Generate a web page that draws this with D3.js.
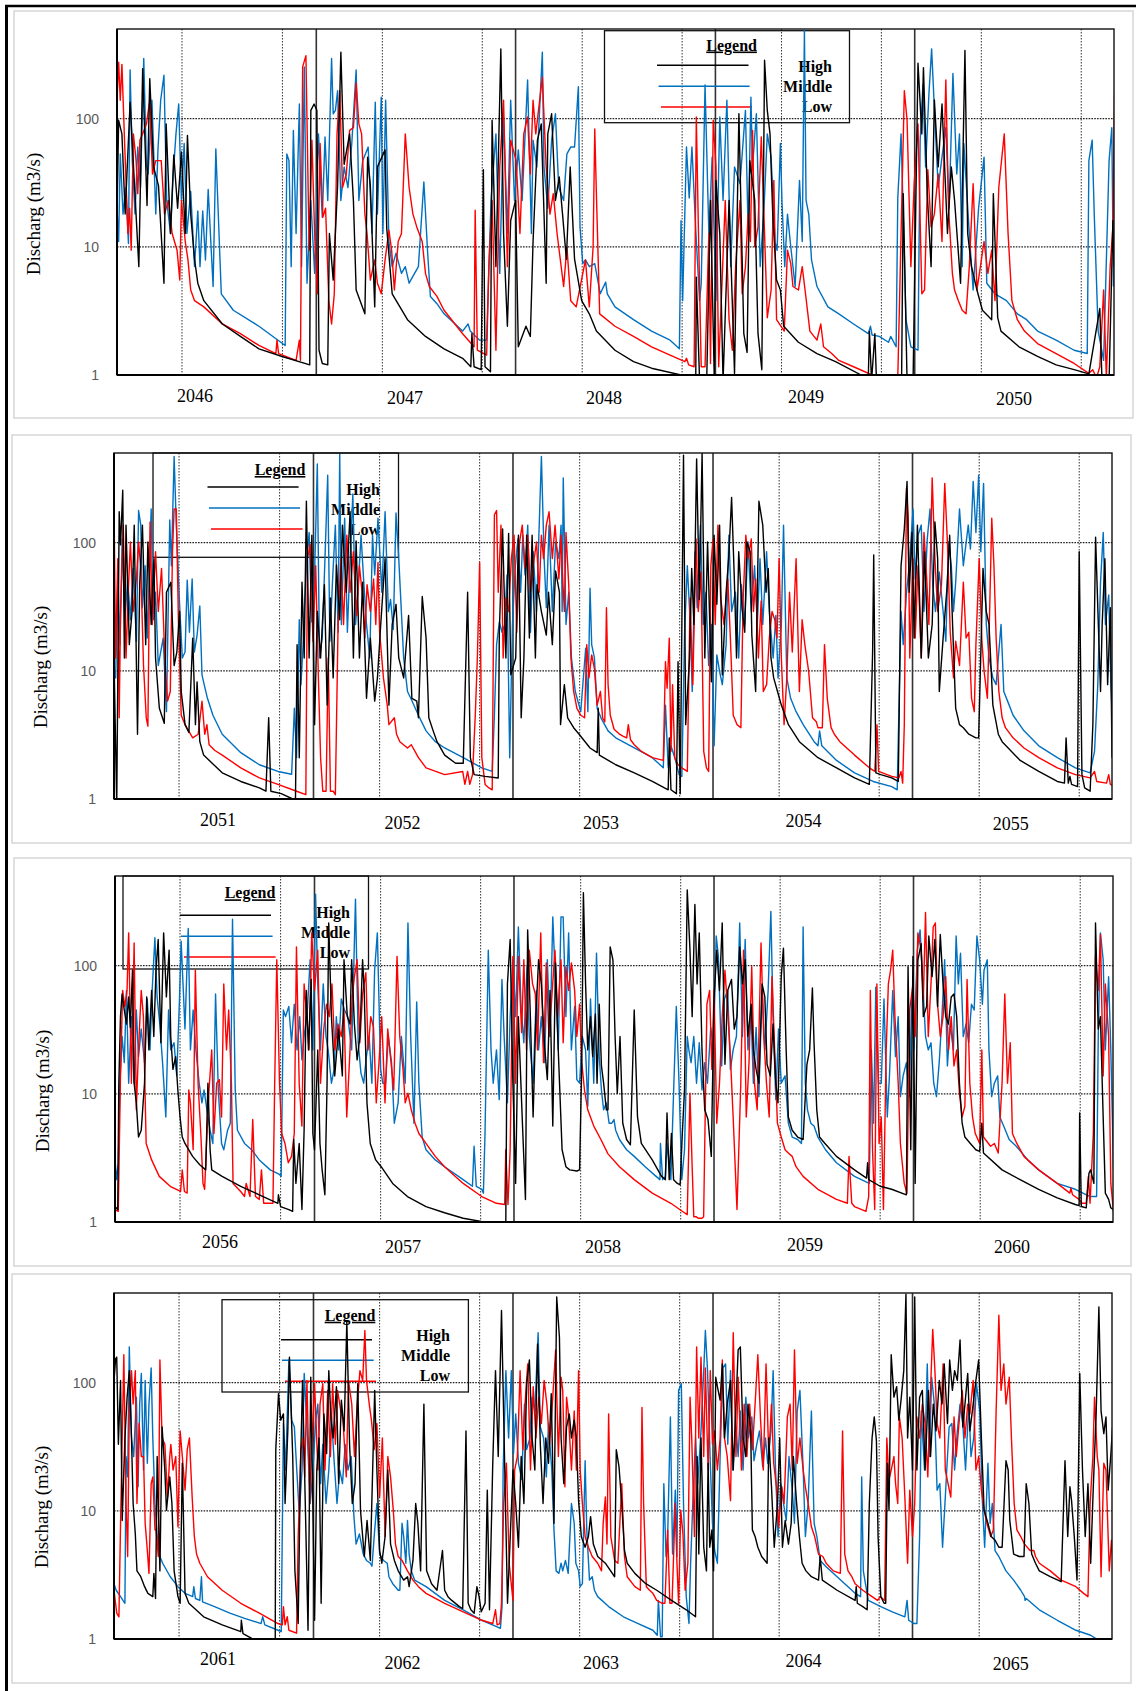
<!DOCTYPE html>
<html>
<head>
<meta charset="utf-8">
<script src="https://cdn.jsdelivr.net/npm/d3@7"></script>
<style>
  body { margin: 0; background: #fff; }
  svg { display: block; }
</style>
</head>
<body>
<script>
"use strict";

// ---- values ----
const yTicks = [1, 10, 100];
const years1 = ["2046", "2047", "2048", "2049", "2050"];
const years2 = ["2051", "2052", "2053", "2054", "2055"];
const years3 = ["2056", "2057", "2058", "2059", "2060"];
const years4 = ["2061", "2062", "2063", "2064", "2065"];
const legendNames = ["High", "Middle", "Low"];
// dotted half-year grid and solid year separators, in days from panel start
const gridDays = [119, 303, 486, 669, 852, 1035, 1217, 1400, 1583, 1766];
const yearLineDays = [365, 730, 1096, 1461];

// daily discharge (m3/s), as [day, value]
const p1High = [[0,17],[3,97],[9,76],[15,18],[24,134],[40,7],[47,245],[55,21],[60,205],[67,42],[76,30],[86,5.2],[90,91],[98,12.7],[104,52],[111,20],[118,55],[125,12.7],[129,74],[135,18],[142,8],[148,5.2],[159,3.8],[193,2.5],[226,2],[260,1.6],[301,1.4],[353,1.2],[355,116],[361,130],[366,116],[370,1.56],[376,1.23],[386,1.2],[389,12.7],[396,5.5],[404,30],[410,330],[416,44],[426,76],[433,23],[438,4.6],[454,3],[459,50],[464,30],[472,3.4],[477,42],[491,57],[494,14],[504,4.3],[532,2.7],[565,2],[599,1.6],[633,1.35],[648,1.16],[650,2.1],[654,1.16],[667,1.1],[671,40],[674,1.16],[684,1.06],[687,97],[694,7],[703,350],[708,12.7],[715,2.4],[721,16],[730,23],[735,1.66],[749,2.4],[757,2],[762,11],[770,68],[777,91],[786,5.2],[789,76],[796,109],[803,23],[810,35],[816,18],[823,8],[830,42],[838,8],[851,3.8],[865,3],[878,2.2],[912,1.56],[946,1.27],[979,1.13],[1033,1],[1060,0.95],[1061,5.8],[1067,0.9],[1080,0.9],[1087,23],[1094,0.9],[1097,33],[1104,12.7],[1110,0.9],[1121,23],[1131,1.03],[1139,109],[1148,2.1],[1154,1.5],[1159,47],[1168,23],[1174,2.1],[1181,1.1],[1186,285],[1191,116],[1196,76],[1201,18],[1208,5.5],[1215,4.6],[1221,2.4],[1248,1.8],[1282,1.47],[1316,1.27],[1363,1],[1376,0.95],[1378,2.2],[1382,0.9],[1388,2.1],[1391,0.9],[1437,0.95],[1440,26],[1447,0.9],[1458,0.9],[1467,270],[1474,76],[1477,250],[1484,26],[1491,7],[1497,140],[1504,42],[1511,130],[1521,12.7],[1528,42],[1534,23],[1545,5.2],[1553,340],[1558,12.7],[1565,7],[1575,4.6],[1585,3.2],[1602,2.7],[1605,26],[1613,2.8],[1619,2.2],[1652,1.66],[1686,1.4],[1720,1.2],[1753,1.1],[1780,1.02],[1800,3.3],[1804,0.9],[1817,0.9],[1824,16],[1826,7]];
const p1Middle = [[0,20],[3,11],[6,53],[11,18],[16,29],[21,10.6],[24,240],[28,47],[33,18],[38,60],[43,29],[49,294],[54,42],[57,37],[64,139],[71,18],[75,57],[80,139],[86,218],[91,23],[98,12.7],[103,37],[108,76],[113,130],[118,23],[123,64],[128,12.7],[135,27],[142,7],[148,19],[152,7],[157,19],[162,7.9],[167,28],[176,4.9],[181,58],[191,4.3],[213,3.2],[260,2.4],[308,1.7],[311,53],[315,47],[319,7],[323,81],[328,12.7],[334,130],[338,7],[343,253],[348,5.2],[355,23],[362,6.2],[369,76],[376,17],[381,72],[386,23],[393,294],[396,109],[400,116],[404,165],[410,23],[416,42],[423,29],[430,64],[438,240],[443,23],[450,47],[460,60],[467,12.7],[473,134],[477,18],[484,147],[487,12.7],[492,139],[498,11],[504,7],[511,8.9],[521,6.2],[528,7],[535,5.2],[545,6.2],[552,7],[562,32],[569,8.9],[574,4.1],[586,3.6],[599,3],[633,2.2],[643,2.5],[647,2.2],[664,1.87],[677,1.87],[685,23],[694,76],[701,6.2],[708,103],[711,42],[715,12.7],[721,139],[728,23],[735,57],[742,23],[752,200],[759,12.7],[762,68],[769,42],[779,330],[782,42],[789,20],[796,68],[803,109],[809,29],[818,23],[824,53],[831,60],[838,60],[845,177],[848,14.3],[853,7.4],[858,7.9],[865,7],[875,7.4],[885,4.3],[895,5.3],[898,4.3],[912,3.4],[946,2.7],[979,2.2],[1013,1.87],[1030,1.6],[1033,16],[1036,3.8],[1043,60],[1048,24],[1053,60],[1060,13.5],[1067,3.8],[1070,5.2],[1077,183],[1084,12.7],[1090,50],[1097,3.8],[1104,103],[1110,23],[1117,139],[1124,7],[1131,42],[1141,31],[1151,116],[1156,12.7],[1161,147],[1164,42],[1171,109],[1178,7],[1185,20],[1191,76],[1198,50],[1205,11],[1209,9.4],[1215,64],[1218,22],[1223,7],[1228,18],[1234,10],[1242,4.9],[1250,33],[1255,11],[1259,490],[1262,23],[1267,18],[1272,7.9],[1282,4.9],[1302,3.4],[1322,3],[1349,2.5],[1376,2.1],[1380,2.4],[1383,2.05],[1396,2],[1413,1.8],[1417,2],[1427,1.66],[1430,24],[1436,76],[1440,18],[1445,2.7],[1454,1.66],[1467,1.56],[1471,68],[1476,183],[1481,42],[1487,155],[1492,350],[1497,120],[1504,29],[1511,50],[1518,85],[1524,20],[1531,225],[1538,37],[1543,76],[1548,7],[1551,64],[1561,12.7],[1568,4.6],[1578,20],[1588,50],[1593,5.2],[1608,4.3],[1629,3.8],[1649,3],[1666,2.7],[1686,2.2],[1720,1.87],[1753,1.56],[1777,1.47],[1780,47],[1786,68],[1790,17],[1797,2.2],[1807,1.3],[1817,47],[1822,85],[1825,4.9]];
const p1Low = [[0,139],[3,275],[6,139],[9,265],[14,64],[20,12.7],[23,20],[26,9.4],[30,76],[35,47],[38,26],[42,68],[47,76],[54,91],[60,139],[65,37],[71,47],[81,47],[87,18],[94,23],[101,12.7],[110,9.4],[115,5.5],[118,23],[125,11],[130,7.9],[135,4.6],[142,3.8],[159,3.4],[193,2.5],[226,2.1],[260,1.7],[291,1.47],[293,1.87],[296,1.47],[328,1.3],[334,1.87],[336,1.3],[340,253],[346,310],[352,9.4],[357,68],[362,12.7],[367,4.3],[372,64],[377,17],[382,20],[388,3.8],[393,2.5],[398,4.3],[403,76],[408,165],[413,29],[420,37],[426,81],[433,85],[438,190],[443,91],[448,76],[454,18],[458,12.7],[464,5.5],[472,7.9],[477,5.2],[484,4.3],[491,7.9],[498,13.5],[503,9.4],[508,4.6],[515,11],[521,12.7],[528,76],[535,29],[542,18],[549,14.3],[559,11],[565,6.2],[572,4.9],[586,4.1],[599,3.2],[633,2.1],[654,1.66],[656,19.3],[660,1.56],[677,1.43],[681,7],[687,23],[694,1.56],[701,42],[708,139],[715,7],[721,68],[731,47],[738,12.7],[745,76],[752,103],[757,37],[762,139],[767,76],[772,116],[779,210],[786,42],[793,18],[799,26],[806,12.7],[818,4.9],[824,10],[831,3.8],[841,3.4],[858,7.9],[865,3.4],[872,10],[875,83],[878,26],[884,3],[912,2.4],[946,2],[979,1.66],[1013,1.43],[1040,1.27],[1043,1.35],[1047,1.2],[1057,1.16],[1061,103],[1065,12.7],[1070,1.16],[1077,1.16],[1084,12.7],[1087,1.23],[1092,97],[1097,42],[1102,1.16],[1114,23],[1121,2.7],[1127,1.56],[1133,7],[1141,23],[1145,4.3],[1151,7],[1156,18],[1160,11],[1164,81],[1168,10],[1174,14.3],[1180,72],[1185,17],[1191,2.8],[1198,4.6],[1203,33],[1208,2.7],[1222,2.2],[1228,9.4],[1234,7.4],[1238,4.9],[1248,4.6],[1255,7],[1261,4.3],[1269,2.2],[1282,1.87],[1289,2.5],[1294,1.66],[1309,1.47],[1322,1.3],[1349,1.16],[1383,1],[1430,0.95],[1442,165],[1447,97],[1454,7],[1460,31],[1467,91],[1474,4.3],[1479,4.6],[1485,40],[1491,14.3],[1497,18],[1504,37],[1511,11],[1518,200],[1523,20],[1530,6.2],[1534,4.6],[1541,3.8],[1548,3.2],[1555,3],[1561,7],[1568,31],[1575,4.6],[1588,11],[1595,6.2],[1602,9.4],[1608,3.8],[1615,29],[1625,76],[1632,12.7],[1639,3.8],[1649,2.7],[1662,2.2],[1686,1.76],[1720,1.47],[1753,1.23],[1780,1.03],[1787,1.1],[1794,0.95],[1800,1.16],[1807,4.6],[1812,0.95],[1819,7],[1824,14.3],[1827,155]];

const p2High = [[0,12.6],[5,0.9],[9.5,174],[12,96],[16,256],[19,12.6],[22,137],[28,16],[33,29],[37,137],[43,3.2],[47,47],[52,137],[58,16],[62,101],[68,23],[73,75],[76,12.6],[83,5.1],[92,3.9],[96,41],[104,49],[110,11],[115,14],[120,29],[123,6.9],[130,3.8],[137,3.3],[144,18],[149,3.8],[152,8.2],[157,2.8],[164,2.2],[198,1.6],[232,1.37],[266,1.22],[278,1.15],[283,4.3],[287,1.15],[306,1.1],[327,1],[332,0.95],[335,16],[339,2.1],[344,49],[348,12.6],[352,210],[357,12.6],[362,114],[367,3.8],[372,29],[378,12.6],[385,47],[390,5.4],[396,37],[401,8.8],[407,67],[413,25],[418,137],[425,41],[432,174],[438,12.6],[443,103],[449,12.6],[455,49],[462,6.1],[469,18],[477,5.8],[482,8.8],[488,23],[496,75],[503,5.4],[509,23],[516,33],[521,12.6],[530,8.8],[539,27],[545,6.1],[554,5.8],[557,4.3],[564,38],[571,18],[576,4.3],[584,3.4],[591,2.8],[605,2.2],[625,1.9],[639,1.9],[647,41],[652,2.1],[659,1.55],[679,1.5],[703,1.46],[705,20],[711,128],[717,12.6],[722,118],[726,9.3],[735,12.6],[740,114],[745,4.3],[750,12.6],[755,114],[760,18],[765,114],[771,12.6],[774,47],[782,29],[791,19],[795,41],[802,16],[808,60],[815,41],[817,3.8],[824,7.8],[830,4.3],[841,3.6],[851,3.2],[871,2.5],[884,2.3],[886,5.1],[888,2.2],[918,1.85],[952,1.6],[985,1.37],[1014,1.18],[1016,3],[1019,1.18],[1029,1.1],[1032,11.8],[1036,1.1],[1042,480],[1046,3.8],[1053,12.6],[1057,63],[1061,23],[1066,450],[1071,36],[1076,500],[1081,12.6],[1086,101],[1093,8.2],[1098,114],[1103,33],[1108,137],[1113,9.3],[1120,41],[1125,80],[1130,225],[1135,52],[1139,12.6],[1143,85],[1149,31],[1154,20],[1158,101],[1164,85],[1167,19],[1174,6.9],[1180,210],[1187,137],[1193,41],[1197,63],[1202,12.6],[1207,8.8],[1214,6.9],[1221,5.4],[1234,3.8],[1254,2.8],[1288,2.1],[1322,1.75],[1355,1.46],[1382,1.3],[1388,14],[1390,80],[1394,1.6],[1403,1.55],[1423,1.46],[1435,1.37],[1440,66],[1446,128],[1451,300],[1455,41],[1460,120],[1464,18],[1470,137],[1477,12.6],[1483,85],[1490,12.6],[1497,23],[1502,145],[1507,75],[1510,6.9],[1517,18],[1524,44],[1529,114],[1534,25],[1540,5.1],[1547,3.8],[1554,3.6],[1564,3.2],[1577,3],[1582,3],[1590,63],[1596,29],[1601,23],[1608,5.4],[1618,3.2],[1625,2.8],[1658,2],[1692,1.64],[1726,1.37],[1739,1.33],[1742,3],[1746,1.33],[1749,1.5],[1752,1.3],[1763,1.25],[1766,85],[1771,1.55],[1776,1.22],[1786,1.15],[1791,3.8],[1796,110],[1801,23],[1805,6.9],[1808,23],[1813,75],[1818,7.8],[1823,31],[1826,2.1]];
const p2Middle = [[0,10.5],[3,8.8],[7,56],[11,16],[15,107],[20,25],[25,52],[30,25],[35,63],[41,17],[45,178],[49,137],[52,31],[57,66],[61,18],[68,183],[72,25],[76,41],[81,11],[90,18],[96,4.8],[102,150],[105,66],[110,470],[114,137],[120,33],[125,12.6],[130,14],[134,51],[138,20],[143,52],[147,14],[152,19],[157,32],[161,9.3],[165,7.8],[171,6.1],[181,4.5],[198,3.2],[232,2.3],[266,1.85],[300,1.64],[325,1.56],[330,5.1],[334,2.1],[339,25],[342,7.8],[346,16],[348,29],[353,75],[357,120],[362,24],[367,56],[372,410],[376,12.6],[381,18],[386,75],[391,335],[395,17],[400,52],[405,137],[410,20],[413,500],[416,23],[422,155],[427,20],[432,75],[437,240],[442,23],[447,47],[452,114],[457,49],[462,23],[468,12.6],[473,114],[477,56],[483,155],[490,41],[496,174],[502,29],[506,36],[511,21],[516,170],[521,75],[530,12.6],[537,6.9],[543,6.1],[557,4.5],[571,3.4],[588,2.8],[605,2.5],[639,2.1],[673,1.75],[692,1.64],[696,4.5],[700,16],[705,24],[710,20],[715,23],[719,56],[724,2.1],[729,23],[734,63],[739,107],[744,41],[748,114],[752,56],[757,137],[762,20],[767,85],[773,29],[778,137],[782,470],[787,75],[791,31],[796,137],[802,29],[808,101],[814,75],[818,137],[820,29],[822,320],[827,23],[832,41],[837,12.6],[844,6.9],[854,4.8],[863,15],[867,4.8],[871,44],[874,16],[879,12.6],[884,5.1],[891,4.3],[904,3.4],[918,3],[952,2.5],[985,2.1],[1005,1.75],[1009,5.4],[1014,1.75],[1019,2.6],[1026,2.1],[1034,1.55],[1039,1.5],[1044,20],[1049,66],[1054,25],[1058,6.9],[1063,85],[1067,31],[1073,137],[1078,23],[1083,41],[1088,11],[1093,23],[1098,2.6],[1103,13.3],[1108,9.9],[1113,7.8],[1120,16],[1125,114],[1130,29],[1137,41],[1143,12.6],[1148,47],[1154,23],[1160,101],[1166,29],[1172,66],[1177,23],[1182,75],[1187,23],[1194,85],[1199,29],[1206,12.6],[1211,27],[1215,8.8],[1221,23],[1225,137],[1231,8.8],[1238,6.1],[1248,4.8],[1261,3.8],[1281,2.8],[1288,2.6],[1291,3.4],[1295,2.6],[1322,2],[1355,1.6],[1389,1.37],[1423,1.25],[1433,1.18],[1440,29],[1444,16],[1450,41],[1455,66],[1462,183],[1466,52],[1471,114],[1477,137],[1482,29],[1488,107],[1493,183],[1498,47],[1503,29],[1510,59],[1517,29],[1522,17],[1527,101],[1532,66],[1536,29],[1540,49],[1547,183],[1554,66],[1563,137],[1567,89],[1572,300],[1577,120],[1582,335],[1586,85],[1591,290],[1596,23],[1601,12.6],[1608,8.8],[1614,7.8],[1623,23],[1628,6.9],[1635,5.8],[1645,4.5],[1665,3.4],[1692,2.6],[1726,2.1],[1759,1.75],[1786,1.6],[1794,2.35],[1800,7.8],[1805,49],[1810,120],[1814,23],[1820,39],[1824,7.8],[1828,3]];
const p2Low = [[0,200],[3,12.6],[7,75],[9.5,4.3],[12,29],[17,137],[22,12.6],[26,41],[30,101],[35,29],[41,52],[45,101],[49,63],[54,11],[59,4.3],[62,3.7],[66,145],[70,23],[76,85],[81,29],[87,63],[93,12.6],[98,5.8],[103,6.9],[107,85],[110,183],[114,183],[118,23],[123,4.5],[130,3.8],[144,3],[154,3.2],[161,5.8],[166,3.2],[170,3.8],[174,2.65],[184,2.4],[198,2.2],[232,1.75],[266,1.46],[300,1.3],[334,1.15],[351,1.08],[354,75],[359,97],[364,17],[369,66],[374,8.8],[378,2.1],[382,1.15],[388,1.15],[392,12.6],[396,1.15],[401,1.15],[405,1.08],[410,23],[415,75],[420,23],[426,114],[432,41],[438,85],[444,27],[449,66],[454,41],[459,18],[463,47],[469,29],[475,52],[479,23],[483,70],[486,20],[493,8.8],[500,5.4],[503,3.8],[513,4.3],[517,3.2],[523,2.8],[537,2.5],[544,2.65],[557,2.1],[571,1.75],[605,1.55],[638,1.64],[642,1.3],[647,1.64],[651,1.3],[656,1.55],[661,4.5],[665,13.3],[669,70],[673,2.1],[679,1.3],[686,1.22],[692,1.18],[696,165],[700,178],[703,41],[708,137],[712,12.6],[717,37],[722,29],[727,75],[732,114],[737,20],[742,101],[747,137],[752,63],[757,114],[762,41],[767,66],[773,101],[778,41],[782,114],[786,75],[791,137],[796,174],[802,75],[807,137],[814,52],[818,114],[820,63],[824,29],[827,120],[832,47],[836,12.6],[841,6.9],[847,5.1],[854,4.5],[861,4.3],[865,16],[869,8.8],[874,13.3],[879,10.4],[884,5.4],[890,6.9],[894,4.3],[898,4],[901,31],[904,7.8],[908,4.5],[915,3.5],[925,3.2],[931,3.1],[938,3],[941,3.8],[945,2.9],[952,2.65],[965,2.35],[985,2.1],[1005,2],[1009,11.8],[1012,7.3],[1016,18],[1019,2.35],[1022,7.8],[1026,2.1],[1032,1.85],[1039,1.75],[1049,1.64],[1054,37],[1059,7.8],[1065,107],[1069,29],[1074,59],[1079,2.35],[1084,1.75],[1088,1.64],[1092,66],[1096,107],[1100,23],[1105,137],[1110,37],[1116,23],[1123,52],[1128,17],[1133,4.5],[1140,3.8],[1147,3.6],[1151,35],[1156,114],[1160,75],[1166,107],[1170,29],[1174,52],[1179,12.6],[1184,35],[1188,6.9],[1194,7.8],[1199,18],[1204,29],[1209,25],[1213,18],[1217,75],[1221,12.6],[1226,3.8],[1231,8.8],[1236,41],[1241,14],[1248,75],[1254,6.9],[1259,25],[1264,16],[1271,9.9],[1278,4.3],[1285,4],[1288,3.6],[1296,3.6],[1300,16],[1305,6.1],[1312,3.6],[1318,3.2],[1328,2.8],[1355,2.2],[1382,1.75],[1392,1.64],[1396,3.8],[1399,1.64],[1423,1.5],[1436,1.46],[1440,1.64],[1443,1.33],[1446,3.8],[1450,265],[1453,155],[1456,12.6],[1462,75],[1466,18],[1471,66],[1477,12.6],[1482,120],[1487,52],[1491,23],[1497,320],[1502,75],[1507,29],[1514,47],[1520,290],[1525,97],[1530,20],[1536,8.8],[1540,17],[1547,11],[1554,49],[1559,18],[1564,20],[1569,6.1],[1574,4.8],[1577,16],[1583,75],[1588,17],[1592,9.9],[1598,6.1],[1601,18],[1606,155],[1610,66],[1614,18],[1619,6.9],[1625,4.3],[1631,3.6],[1645,3],[1665,2.5],[1692,2.1],[1726,1.75],[1759,1.55],[1786,1.46],[1794,1.64],[1798,1.37],[1816,1.33],[1820,1.55],[1823,1.3],[1829,1.27]];

const p3High = [[0,1.32],[5,1.25],[7,12.1],[10,40],[13,60],[17,45],[21,35],[25,57],[28,33],[32,92],[35,12.1],[39,8.5],[43,4.6],[48,5.2],[54,12.1],[58,57],[62,22],[67,64],[71,28],[75,92],[79,160],[84,25],[89,180],[94,57],[99,132],[102,28],[106,15.5],[111,19.5],[115,10.7],[119,6.6],[123,4.6],[128,4.1],[142,3.25],[155,2.8],[166,2.55],[170,12.1],[174,3.66],[177,2.55],[196,2.27],[230,1.9],[264,1.63],[298,1.4],[299,1.63],[303,1.32],[318,1.25],[325,1.21],[327,4.4],[331,2],[337,4.1],[342,1.25],[346,5.2],[350,64],[354,22],[359,78],[362,4.9],[365,3.66],[371,22],[375,4.1],[379,2.55],[384,1.63],[388,12.1],[391,215],[396,40],[402,13.8],[409,32],[416,13.8],[419,111],[425,40],[430,35],[433,111],[438,35],[443,18.4],[448,28],[453,111],[456,64],[461,8.5],[467,4.1],[477,3.05],[487,2.7],[508,2],[535,1.58],[569,1.32],[603,1.18],[637,1.07],[670,1.01],[691,0.98],[715,0.95],[718,72],[723,160],[728,12.1],[733,2],[738,40],[745,6.6],[751,1.5],[755,190],[760,40],[765,6.6],[770,40],[775,111],[780,72],[786,23.5],[791,12.9],[796,64],[801,5.6],[806,105],[811,22],[818,3.66],[825,2.7],[832,2.55],[845,2.5],[850,2.55],[854,17],[857,370],[861,72],[865,22],[870,40],[874,19.5],[879,42],[882,12.1],[886,50],[890,16.5],[894,12.1],[899,7.5],[902,7.5],[906,140],[911,111],[915,28],[919,10.1],[924,28],[929,5.9],[936,4.4],[943,4],[950,45],[956,6.6],[963,4.1],[983,3.05],[1000,2.27],[1007,2.14],[1010,7.1],[1014,2.14],[1018,4.9],[1022,2.14],[1029,2],[1034,1.95],[1038,4.9],[1042,10.7],[1047,390],[1052,132],[1056,40],[1061,300],[1065,72],[1069,180],[1074,22],[1079,7.5],[1085,6.3],[1091,3.25],[1096,55],[1101,132],[1106,64],[1111,215],[1116,17],[1121,64],[1128,78],[1133,32],[1138,40],[1143,140],[1148,72],[1153,111],[1158,28],[1164,50],[1168,22],[1173,15.5],[1178,12.1],[1184,72],[1189,57],[1193,17],[1199,13.8],[1204,35],[1209,12.1],[1213,8.5],[1219,82],[1223,137],[1228,22],[1232,6.6],[1239,5.2],[1249,4.6],[1259,4.4],[1266,17],[1271,22],[1276,67],[1279,25],[1284,7.5],[1289,4.6],[1299,4.1],[1320,3.25],[1353,2.55],[1375,2.2],[1377,2.9],[1379,2.14],[1400,1.9],[1421,1.8],[1448,1.63],[1451,98],[1456,3.66],[1460,118],[1464,2],[1469,111],[1475,148],[1479,40],[1485,48],[1489,170],[1495,82],[1500,160],[1505,48],[1510,175],[1515,72],[1520,40],[1525,35],[1530,57],[1535,60],[1540,40],[1545,12.1],[1550,5.9],[1555,4.6],[1565,4.1],[1575,3.66],[1582,3.55],[1586,5.9],[1589,3.45],[1623,2.55],[1656,2.14],[1690,1.8],[1724,1.54],[1757,1.37],[1764,1.34],[1765,7.1],[1768,1.32],[1777,1.29],[1782,2.4],[1785,2.55],[1791,2],[1794,215],[1799,32],[1803,40],[1808,6.6],[1812,1.68],[1818,1.5],[1822,1.29],[1826,1.25]];
const p3Middle = [[0,3.05],[3,2.14],[6,2.9],[9,12.1],[13,28],[17,17.5],[21,64],[25,12.1],[30,40],[35,12.1],[39,45],[43,19.5],[48,32],[54,17.5],[59,55],[64,22],[68,64],[73,165],[77,57],[82,35],[87,17.5],[93,6.6],[98,45],[102,22],[108,25],[113,13.8],[118,55],[121,155],[125,64],[128,32],[134,195],[138,22],[143,45],[148,22],[154,12.1],[159,8.5],[163,10.7],[169,7.1],[174,5.2],[179,4.1],[184,60],[189,10.7],[195,4.1],[199,3.66],[206,5.2],[211,5.9],[215,230],[220,10.7],[224,5.2],[237,4.1],[250,3.66],[264,3.05],[284,2.55],[301,2.35],[304,2.27],[308,45],[312,40],[318,48],[323,25],[328,50],[333,22],[338,40],[342,18.4],[346,28],[352,45],[357,111],[362,22],[367,360],[371,72],[376,22],[381,72],[386,28],[390,22],[396,12.1],[401,15.5],[405,40],[409,22],[414,55],[420,45],[426,40],[433,22],[440,330],[445,25],[450,14.5],[455,12.1],[460,19.5],[465,28],[470,12.1],[475,92],[480,180],[486,15.5],[490,12.1],[495,12.1],[500,28],[506,17.5],[511,5.9],[518,8.5],[524,28],[531,12.1],[536,215],[541,28],[547,5.9],[552,52],[556,12.1],[562,4.6],[569,3.66],[586,3.05],[603,2.7],[637,2.14],[654,1.9],[657,3.9],[661,1.9],[671,1.8],[674,1.68],[677,4.9],[683,132],[688,22],[692,12.1],[698,22],[703,9],[708,78],[712,28],[718,8.5],[723,40],[728,111],[733,40],[738,200],[743,48],[748,25],[754,98],[758,28],[765,12.1],[771,64],[775,22],[780,40],[786,17.5],[791,111],[796,28],[801,240],[806,72],[811,22],[816,240],[820,240],[825,40],[830,180],[835,22],[841,48],[845,12.9],[850,12.1],[855,28],[861,22],[865,8],[870,55],[876,12.1],[881,125],[886,19.5],[890,10.7],[894,7.5],[899,8.5],[904,5.9],[909,5.9],[913,6.3],[916,5.2],[923,4.4],[936,3.66],[950,3.25],[970,2.7],[990,2.27],[997,2.14],[998,4.1],[1002,2.14],[1007,2.27],[1010,4.1],[1017,2.14],[1027,48],[1032,12.1],[1037,2.14],[1042,3.66],[1047,28],[1050,22],[1054,17.5],[1059,28],[1064,12.1],[1069,25],[1074,10.7],[1079,17.5],[1084,12.1],[1090,33],[1095,22],[1100,170],[1104,118],[1110,16.5],[1115,55],[1121,64],[1126,15.5],[1131,22],[1137,28],[1143,215],[1148,28],[1153,160],[1158,22],[1164,40],[1168,12.1],[1173,33],[1178,9.5],[1184,64],[1189,22],[1195,64],[1200,265],[1204,40],[1209,9],[1214,32],[1219,12.1],[1226,13.8],[1232,5.9],[1239,4.6],[1249,4.4],[1256,4.1],[1259,200],[1263,12.1],[1267,7.5],[1273,5.9],[1279,5.6],[1286,4.6],[1300,3.66],[1320,2.9],[1353,2.27],[1380,2],[1384,22],[1388,5.9],[1392,68],[1397,12.1],[1402,12.1],[1407,55],[1413,6.6],[1417,13.8],[1423,64],[1428,19.5],[1433,40],[1437,9.5],[1442,13.8],[1448,17.5],[1453,9.5],[1458,57],[1462,22],[1468,132],[1473,190],[1478,72],[1483,28],[1488,22],[1493,25],[1498,12.1],[1503,9.5],[1508,17.5],[1513,40],[1518,111],[1523,16.5],[1528,35],[1534,22],[1539,170],[1543,72],[1547,125],[1552,28],[1557,35],[1562,25],[1567,50],[1572,45],[1577,170],[1582,111],[1587,50],[1590,92],[1596,111],[1599,22],[1604,9.5],[1609,12.1],[1615,13.8],[1619,6.6],[1626,5.6],[1636,4.4],[1649,3.9],[1670,3.05],[1690,2.55],[1724,2],[1757,1.8],[1784,1.58],[1796,1.58],[1799,28],[1803,180],[1808,111],[1812,22],[1818,82],[1822,22],[1827,2.55]];
const p3Low = [[0,1.25],[6,1.21],[10,13.8],[14,64],[18,48],[22,64],[25,180],[30,12.1],[35,150],[39,7.5],[43,22],[48,64],[52,40],[57,4.1],[67,3.05],[81,2.27],[101,1.9],[120,1.73],[123,2.55],[127,1.73],[132,1.68],[135,10.7],[138,8.5],[143,3.66],[147,92],[152,12.1],[157,4.9],[161,2],[164,1.8],[167,3.66],[172,10.7],[177,22],[181,4.9],[186,12.1],[191,12.9],[195,6.6],[199,72],[204,22],[208,45],[213,12.1],[216,2],[230,1.73],[237,1.58],[240,2],[247,1.58],[252,6.3],[257,1.58],[264,1.5],[268,2.55],[272,1.4],[289,1.4],[292,10.7],[296,111],[301,12.1],[305,4.9],[311,4.1],[317,2.9],[323,3.25],[328,4.9],[332,140],[337,12.1],[342,5.6],[346,72],[351,40],[355,22],[360,180],[365,64],[371,132],[376,12.1],[382,32],[387,50],[392,40],[397,72],[402,22],[408,35],[414,28],[419,45],[424,6.6],[430,22],[434,57],[438,82],[443,111],[448,25],[453,60],[459,88],[463,22],[468,40],[473,33],[478,8.5],[483,17.5],[488,40],[494,8.5],[499,32],[504,19.5],[510,10.7],[516,118],[521,28],[527,15.5],[531,8.5],[536,10.1],[542,7.5],[549,5.9],[556,4.9],[569,4.1],[586,3.25],[603,2.7],[637,2],[671,1.58],[698,1.4],[713,1.37],[715,3.66],[719,1.37],[723,3.66],[728,118],[733,12.1],[738,118],[744,30],[748,111],[753,22],[758,132],[764,72],[769,60],[773,22],[779,180],[784,17.5],[789,105],[794,28],[799,55],[805,132],[810,40],[816,111],[820,25],[825,98],[830,64],[835,105],[841,64],[845,28],[850,50],[854,17.5],[859,10.7],[865,7.5],[876,5.6],[889,4.4],[902,3.4],[923,2.7],[950,2.14],[983,1.68],[1017,1.4],[1047,1.14],[1052,10.1],[1056,2.7],[1059,1.1],[1063,1.1],[1067,1.07],[1074,1.07],[1077,1.1],[1083,50],[1088,64],[1092,15.5],[1096,64],[1101,5.9],[1106,12.1],[1111,40],[1116,92],[1121,45],[1126,19.5],[1131,6.6],[1138,1.25],[1145,12.1],[1150,132],[1155,6.6],[1160,17.5],[1165,98],[1170,12.1],[1175,7.5],[1182,150],[1187,28],[1192,12.1],[1197,6.6],[1202,82],[1207,22],[1212,5.9],[1219,4.6],[1226,3.66],[1232,3.45],[1239,3.25],[1246,2.7],[1259,2.27],[1286,1.8],[1320,1.5],[1340,1.4],[1343,3.25],[1348,1.4],[1353,1.32],[1374,1.21],[1379,1.58],[1382,64],[1386,3.66],[1390,1.25],[1394,72],[1398,4.1],[1402,6.6],[1406,1.25],[1411,22],[1415,72],[1419,92],[1423,132],[1427,40],[1433,12.1],[1437,4.1],[1444,2],[1449,1.68],[1454,45],[1460,72],[1464,28],[1469,180],[1475,132],[1479,55],[1483,260],[1488,28],[1493,72],[1497,200],[1501,215],[1505,50],[1510,28],[1515,40],[1520,82],[1525,22],[1530,40],[1535,16.5],[1540,22],[1545,10.1],[1550,6.6],[1555,8],[1559,78],[1564,12.1],[1569,6.6],[1574,4.9],[1582,4.1],[1586,22],[1589,4.6],[1602,3.9],[1609,4.1],[1616,3.45],[1623,12.1],[1628,60],[1633,12.1],[1638,25],[1642,4.9],[1650,4.1],[1663,3.25],[1690,2.55],[1724,2],[1747,1.68],[1749,1.84],[1752,1.63],[1764,1.5],[1769,1.4],[1777,1.4],[1781,2.27],[1784,1.4],[1790,4.9],[1794,118],[1799,64],[1803,175],[1808,13.8],[1812,72],[1818,28],[1822,2],[1827,1.18]];

const p4High = [[0,104],[3,153],[5,158],[8,33],[12,104],[15,8.4],[20,37],[24,77],[28,124],[32,37],[35,11.4],[39,6.6],[42,3.4],[49,3.06],[56,2.56],[62,2.27],[71,2.14],[73,3.25],[76,2.07],[79,26.5],[84,3.4],[88,45],[93,20.8],[96,10.1],[102,18.4],[106,11.4],[110,3.4],[117,2.14],[121,1.9],[125,23.5],[130,2.27],[137,1.9],[164,1.49],[198,1.29],[232,1.14],[233,1.4],[236,1.1],[252,1.01],[266,0.98],[295,0.95],[296,30],[301,82],[305,51],[310,57],[313,11.4],[318,42],[321,158],[327,26.5],[331,3.4],[337,1.32],[341,20.8],[345,104],[350,11.4],[355,1.17],[360,110],[364,10.1],[367,1.4],[371,20.8],[375,37],[379,1.9],[384,57],[389,28],[393,124],[397,51],[401,37],[407,93],[411,16.3],[416,73],[421,42],[426,300],[431,33],[436,11.4],[441,16.3],[446,98],[451,10.1],[458,4.4],[463,8.4],[469,4.1],[477,87],[481,20.8],[486,4.9],[490,3.9],[496,6.3],[501,20.8],[506,5.5],[513,4.1],[520,3.4],[530,2.88],[537,3.06],[540,2.56],[547,4.1],[552,11.4],[556,8],[561,3.4],[567,68],[572,3.4],[581,2.7],[591,2.4],[601,4.9],[605,2.4],[611,2.14],[618,2],[632,1.79],[638,1.73],[644,42],[648,1.9],[653,1.69],[659,1.59],[664,2.56],[668,2.14],[672,1.63],[679,1.9],[683,14.5],[687,1.69],[693,23.5],[698,124],[703,26.5],[709,365],[715,20.8],[720,1.9],[725,6.3],[730,20.8],[735,11.4],[740,5.2],[745,26.5],[750,11.4],[755,98],[760,150],[765,37],[770,20.8],[775,200],[780,33],[785,11.4],[790,37],[795,23.5],[800,82],[805,8],[810,465],[815,225],[818,37],[823,16.3],[828,45],[833,57],[837,37],[842,51],[846,37],[850,12],[855,6.3],[862,5.2],[868,6.3],[872,9],[877,5.5],[885,4.4],[899,3.9],[916,3.06],[919,30],[924,22],[929,11.4],[934,4.9],[939,3.9],[953,3.25],[973,2.7],[993,2.4],[1020,2],[1047,1.69],[1064,1.49],[1067,26.5],[1070,4.6],[1074,37],[1079,5.2],[1084,3.4],[1087,23.5],[1090,5.2],[1094,7.1],[1097,3.4],[1101,110],[1104,93],[1109,73],[1113,140],[1117,37],[1122,68],[1128,104],[1133,20.8],[1138,68],[1142,180],[1146,190],[1151,37],[1156,26.5],[1160,68],[1165,40],[1168,7.1],[1173,6.3],[1178,5.2],[1185,4.4],[1195,3.9],[1198,37],[1203,15.4],[1208,5.2],[1214,11.4],[1218,37],[1223,5.2],[1228,8.4],[1234,5.5],[1239,8],[1243,26.5],[1249,11.4],[1254,6.3],[1259,3.9],[1266,3.4],[1276,3.06],[1289,2.88],[1292,4.4],[1296,2.88],[1323,2.4],[1356,2],[1358,2.56],[1360,1.9],[1370,1.79],[1378,1.69],[1382,11.4],[1387,37],[1391,54],[1395,35],[1398,6.3],[1403,2.14],[1409,1.9],[1412,1.9],[1415,23.5],[1418,10.1],[1422,165],[1427,77],[1432,93],[1436,51],[1440,73],[1445,124],[1449,490],[1452,37],[1456,77],[1461,20.8],[1465,465],[1469,20.8],[1474,77],[1479,87],[1484,20.8],[1490,87],[1494,26.5],[1499,68],[1504,42],[1510,104],[1515,68],[1519,140],[1525,48],[1529,150],[1534,87],[1538,124],[1543,104],[1548,215],[1553,45],[1557,68],[1562,118],[1566,42],[1572,68],[1577,104],[1582,150],[1587,37],[1592,10.1],[1599,8],[1605,6.3],[1612,5.9],[1619,5.2],[1625,5.2],[1632,24.6],[1636,20.8],[1639,8.4],[1646,4.6],[1656,4.4],[1665,4.4],[1669,16.3],[1674,11.4],[1679,4.6],[1686,3.9],[1693,3.4],[1713,3.06],[1733,2.8],[1740,24.6],[1745,6.3],[1749,15.4],[1752,12],[1757,6.3],[1762,2.88],[1767,118],[1772,20.8],[1777,6.3],[1782,16.3],[1787,3.9],[1792,16.3],[1797,57],[1802,390],[1806,60],[1811,40],[1815,54],[1819,14.5],[1824,28],[1827,45]];
const p4Middle = [[0,2.7],[4,2.4],[12,2.14],[20,1.9],[22,26.5],[25,18.4],[28,190],[32,37],[36,26.5],[41,77],[44,15.4],[47,68],[50,118],[54,20.8],[57,104],[61,23.5],[64,68],[68,130],[71,37],[75,11.4],[79,6.3],[84,4.4],[89,3.9],[103,3.06],[117,2.56],[130,2.27],[144,2.14],[146,2.56],[149,2.07],[157,2],[160,3.06],[162,1.95],[184,1.79],[212,1.59],[239,1.45],[269,1.32],[272,1.49],[276,1.29],[300,1.17],[306,1.14],[310,48],[314,20.8],[320,150],[325,51],[330,45],[333,26.5],[339,9.5],[344,20.8],[348,118],[354,37],[359,11.4],[364,20.8],[369,51],[373,68],[378,16.3],[382,33],[388,11.4],[393,20.8],[398,54],[403,23.5],[408,11.4],[413,20.8],[418,16.3],[423,33],[428,20.8],[434,26.5],[439,9],[443,5.5],[449,6.6],[456,4.6],[462,4.1],[469,3.9],[472,3.7],[477,7.1],[481,11.4],[486,4.6],[493,4.1],[500,3.9],[503,3.06],[510,2.7],[520,2.4],[523,2.4],[527,8],[530,6.3],[534,3.9],[537,8.4],[540,4.6],[544,3.4],[550,2.88],[571,2.56],[605,2],[639,1.69],[673,1.4],[700,1.25],[707,1.21],[710,1.79],[712,20.8],[717,124],[722,37],[727,124],[731,28],[735,57],[740,23.5],[746,17.5],[751,68],[755,30],[761,37],[765,77],[770,60],[776,245],[780,45],[786,37],[791,18.4],[795,48],[801,20.8],[805,7.1],[809,3.4],[814,3.25],[818,3.9],[821,3.4],[826,4.1],[831,3.25],[837,11.4],[842,8],[845,3.9],[850,3.4],[853,2.56],[857,2.7],[862,24.6],[865,7.1],[870,2.88],[875,3.06],[879,2.4],[885,2.14],[905,1.79],[932,1.49],[959,1.32],[986,1.17],[994,1.07],[996,2],[1000,1.04],[1003,1.04],[1006,16.3],[1010,4.4],[1013,6.3],[1018,54],[1022,4.6],[1027,14.5],[1030,4.4],[1033,87],[1038,98],[1042,11.4],[1047,2.14],[1052,1.32],[1055,3.9],[1059,11.4],[1064,37],[1068,16.3],[1074,42],[1079,124],[1082,255],[1086,124],[1091,23.5],[1095,8],[1099,4.9],[1104,3.9],[1109,26.5],[1114,130],[1119,140],[1123,33],[1128,124],[1132,20.8],[1138,45],[1142,26.5],[1146,60],[1151,20.8],[1156,77],[1161,37],[1167,54],[1171,24.6],[1176,33],[1181,42],[1187,22],[1192,37],[1196,23.5],[1202,42],[1206,124],[1210,23.5],[1215,6.3],[1220,16.3],[1225,11.4],[1230,8.4],[1235,26.5],[1241,14.5],[1245,8],[1250,60],[1255,87],[1261,20.8],[1265,6.3],[1270,11.4],[1276,60],[1281,8],[1286,6.3],[1292,4.1],[1302,3.7],[1323,3.06],[1343,2.56],[1356,2.27],[1366,2.14],[1368,18.4],[1371,3.4],[1380,2],[1403,1.79],[1424,1.63],[1447,1.49],[1451,2],[1454,1.4],[1464,1.32],[1469,1.32],[1474,6.3],[1477,60],[1483,20.8],[1488,140],[1492,26.5],[1496,110],[1501,68],[1506,14.5],[1511,16.3],[1516,5.2],[1521,12.8],[1525,26.5],[1528,45],[1533,48],[1538,20.8],[1543,42],[1548,68],[1553,48],[1558,20.8],[1564,68],[1568,26.5],[1573,37],[1578,98],[1584,60],[1589,11.4],[1593,5.2],[1599,23.5],[1603,8],[1607,11.4],[1612,4.9],[1619,4.4],[1625,3.9],[1632,3.4],[1646,2.88],[1659,2.4],[1666,2.14],[1667,2],[1669,2.07],[1693,1.69],[1726,1.4],[1760,1.17],[1787,1.07],[1801,0.98],[1830,0.95]];
const p4Low = [[0,2.4],[5,1.59],[9,1.49],[12,8],[15,37],[18,165],[22,11.4],[25,4.4],[28,60],[32,124],[35,68],[39,124],[42,11.4],[46,48],[50,26.5],[54,26.5],[57,8],[61,4.9],[64,3.25],[68,16.3],[71,18.4],[75,7.1],[77,7.1],[81,4.4],[84,150],[88,37],[93,33],[98,12.8],[102,26.5],[104,33],[108,20.8],[113,26.5],[117,7.5],[121,42],[125,26.5],[130,14.5],[134,30],[138,37],[143,12.8],[147,6.3],[151,4.6],[157,3.9],[171,3.06],[198,2.4],[232,1.9],[266,1.59],[300,1.32],[308,1.29],[310,1.79],[313,1.29],[317,1.49],[320,1.17],[334,1.11],[337,6.3],[342,30],[346,37],[349,18.4],[353,104],[358,11.4],[362,33],[367,98],[373,20.8],[377,68],[382,98],[386,20.8],[391,87],[396,26.5],[400,98],[405,33],[409,87],[415,60],[419,51],[425,18.4],[429,104],[435,68],[440,26.5],[445,68],[450,124],[455,104],[459,255],[462,104],[467,68],[471,51],[476,30],[481,48],[486,12.8],[491,37],[496,6.3],[501,26.5],[506,18.4],[511,10.1],[515,5.5],[520,4.4],[527,4.1],[537,3.4],[547,2.88],[557,2.56],[571,2.27],[605,1.9],[639,1.63],[673,1.4],[693,1.32],[698,1.69],[701,1.29],[706,1.32],[709,1.9],[713,11.4],[718,23.5],[723,3.9],[730,2],[733,20.8],[738,26.5],[743,124],[748,30],[752,68],[757,140],[762,20.8],[767,93],[772,37],[777,77],[782,48],[787,104],[792,68],[797,33],[802,68],[808,180],[813,26.5],[818,110],[821,87],[825,15.4],[828,77],[831,60],[837,20.8],[842,60],[846,20.8],[850,124],[853,20.8],[857,11.4],[862,6.3],[868,5.2],[875,4.4],[885,3.9],[892,3.4],[895,8],[899,12.8],[902,5.5],[905,57],[909,6.3],[916,4.1],[922,3.9],[929,16.3],[934,4.4],[939,3.06],[953,2.56],[963,2.4],[966,64],[969,11.4],[974,2.56],[980,2.4],[986,2.27],[993,2],[1003,1.9],[1008,1.9],[1013,7.1],[1017,1.9],[1021,1.9],[1027,11.4],[1030,3.9],[1033,1.9],[1037,10.1],[1041,6.6],[1045,2.4],[1050,3.9],[1054,77],[1057,37],[1062,6.3],[1066,190],[1070,37],[1074,158],[1079,26.5],[1082,130],[1087,20.8],[1091,124],[1095,33],[1099,42],[1104,20.8],[1109,37],[1113,150],[1117,37],[1122,26.5],[1128,12],[1133,245],[1138,26.5],[1142,110],[1148,20.8],[1153,68],[1158,26.5],[1163,68],[1168,30],[1173,68],[1178,165],[1183,51],[1188,20.8],[1193,140],[1198,26.5],[1203,68],[1207,23.5],[1212,15.4],[1216,7.5],[1222,15.4],[1226,11.4],[1232,54],[1237,68],[1241,20.8],[1245,180],[1250,23.5],[1255,37],[1261,20.8],[1265,15.4],[1270,11.4],[1276,7.5],[1282,6.3],[1289,4.6],[1297,4.4],[1303,3.9],[1316,3.4],[1329,3.25],[1333,42],[1337,4.6],[1343,3.4],[1350,3.06],[1356,2.7],[1370,2.4],[1383,2.2],[1397,2],[1402,2.14],[1410,2],[1414,37],[1418,17.5],[1422,20.8],[1427,26.5],[1430,16.3],[1434,11.4],[1437,54],[1442,37],[1447,12.8],[1452,3.9],[1456,14.5],[1461,6.3],[1465,11.4],[1469,54],[1474,37],[1479,68],[1484,48],[1489,18.4],[1493,68],[1498,260],[1502,124],[1506,48],[1511,37],[1517,140],[1521,20.8],[1526,16.3],[1531,12.8],[1537,54],[1541,26.5],[1546,48],[1552,87],[1557,37],[1562,68],[1566,57],[1572,104],[1577,20.8],[1582,26.5],[1587,14.5],[1592,10.1],[1597,8],[1604,6.3],[1609,7.1],[1614,60],[1619,335],[1623,87],[1628,140],[1632,68],[1638,110],[1642,37],[1647,11.4],[1652,7.1],[1659,6.3],[1666,5.5],[1676,4.9],[1683,4.9],[1686,4.4],[1693,3.9],[1713,3.4],[1733,2.88],[1760,2.56],[1774,2.27],[1782,2.14],[1786,11.4],[1791,26.5],[1794,77],[1799,26.5],[1802,20.8],[1806,3.06],[1811,23.5],[1815,20.8],[1821,3.4],[1825,5.9],[1829,3.4]];

// ---- page layout ----
const W = 1136, H = 1691;
const panels = [
  { high: p1High, middle: p1Middle, low: p1Low, years: years1,
    box: [14, 11, 1119, 407], plot: { l: 117, t: 29, r: 1114, b: 375 }, title: [33, 214],
    yearX: [195, 405, 604, 806, 1014], yearY: [395, 397, 397, 396, 398],
    legend: { x: 604.5, y: 30.7, w: 245, h: 92, cx: 731.6, ty: 50.5,
      lines: [[657, 748.5, 65.3], [658.5, 749.6, 86.3], [661, 752, 107]], tx: 832, tys: [72.3, 91.6, 112.3] } },
  { high: p2High, middle: p2Middle, low: p2Low, years: years2,
    box: [12, 435, 1119, 408], plot: { l: 114, t: 453, r: 1112, b: 799 }, title: [40, 667],
    yearX: [218, 402.5, 601, 803.6, 1010.8], yearY: [819, 822, 822, 820.7, 823],
    legend: { x: 153, y: 453, w: 245.5, h: 104.3, cx: 280, ty: 475,
      lines: [[207.5, 298.6, 487], [209, 300, 508], [211, 302.6, 529]], tx: 380, tys: [495, 515, 534.6] } },
  { high: p3High, middle: p3Middle, low: p3Low, years: years3,
    box: [14, 858, 1117, 408], plot: { l: 115, t: 876, r: 1113, b: 1222 }, title: [42, 1091],
    yearX: [220, 403, 603, 805, 1012], yearY: [1241.7, 1246, 1246, 1244, 1246.7],
    legend: { x: 123, y: 876, w: 245.5, h: 93, cx: 250, ty: 898.3,
      lines: [[180, 271, 915.3], [181, 272.6, 936.3], [184, 275.6, 957]], tx: 350, tys: [918, 938, 958] } },
  { high: p4High, middle: p4Middle, low: p4Low, years: years4,
    box: [12, 1274, 1119, 409], plot: { l: 114, t: 1293, r: 1112, b: 1639 }, title: [41, 1507],
    yearX: [218, 402.5, 601, 803.6, 1010.8], yearY: [1658, 1662, 1662, 1660.7, 1663],
    legend: { x: 222, y: 1299.7, w: 246.4, h: 92.3, cx: 350, ty: 1320.7,
      lines: [[281, 372, 1339.7], [282, 373.7, 1360.3], [285, 376, 1381.3]], tx: 450, tys: [1341.3, 1361.3, 1380.7] } }
];
const seriesOrder = [
  { key: "middle", color: "#0070C0" },
  { key: "low", color: "#FF0000" },
  { key: "high", color: "#000000" }
];
const legendColors = ["#000000", "#0070C0", "#FF0000"];

const svg = d3.select("body").append("svg")
  .attr("width", W).attr("height", H)
  .style("background", "#fff");

// outer frame (left and top edges visible in the picture)
svg.append("line").attr("x1", 6.5).attr("x2", 6.5).attr("y1", 5).attr("y2", H)
  .attr("stroke", "#000").attr("stroke-width", 3);
svg.append("line").attr("x1", 5).attr("x2", W).attr("y1", 6).attr("y2", 6)
  .attr("stroke", "#000").attr("stroke-width", 2.6);

panels.forEach((p, i) => drawPanel(p, i));

function drawPanel(p, i) {
  const g = svg.append("g");
  const pl = p.plot;

  g.append("rect")
    .attr("x", p.box[0]).attr("y", p.box[1])
    .attr("width", p.box[2]).attr("height", p.box[3])
    .attr("fill", "none").attr("stroke", "#d6d6d6").attr("stroke-width", 1.5);

  const x = d3.scaleLinear().domain([0, 1826]).range([pl.l, pl.r]);
  const y = d3.scaleLog().domain([1, 500]).range([pl.b, pl.t]);

  svg.append("clipPath").attr("id", "clip" + i)
    .append("rect").attr("x", pl.l).attr("y", pl.t)
    .attr("width", pl.r - pl.l).attr("height", pl.b - pl.t);

  // horizontal dotted grid
  g.selectAll(".hgrid").data(yTicks.filter(v => v > 1)).enter().append("line")
    .attr("x1", pl.l).attr("x2", pl.r)
    .attr("y1", d => y(d)).attr("y2", d => y(d))
    .attr("stroke", "#222").attr("stroke-width", 1.2).attr("stroke-dasharray", "1.6,1.2");

  // vertical dotted half-year grid
  g.selectAll(".vgrid").data(gridDays).enter().append("line")
    .attr("x1", d => x(d)).attr("x2", d => x(d))
    .attr("y1", pl.t).attr("y2", pl.b)
    .attr("stroke", "#333").attr("stroke-width", 1).attr("stroke-dasharray", "1.5,1.5");

  // solid year separators
  g.selectAll(".yline").data(yearLineDays).enter().append("line")
    .attr("x1", d => x(d)).attr("x2", d => x(d))
    .attr("y1", pl.t).attr("y2", pl.b)
    .attr("stroke", "#333").attr("stroke-width", 1.6);

  // legend box and keys
  const lg = p.legend;
  g.append("rect").attr("x", lg.x).attr("y", lg.y).attr("width", lg.w).attr("height", lg.h)
    .attr("fill", "none").attr("stroke", "#111").attr("stroke-width", 1.3);
  g.append("text").attr("x", lg.cx).attr("y", lg.ty)
    .attr("text-anchor", "middle")
    .style("font-family", "'Liberation Serif', 'Times New Roman', serif")
    .style("font-weight", "bold").style("font-size", "16px")
    .style("text-decoration", "underline")
    .text("Legend");
  lg.lines.forEach((ln, k) => {
    g.append("line").attr("x1", ln[0]).attr("x2", ln[1]).attr("y1", ln[2]).attr("y2", ln[2])
      .attr("stroke", legendColors[k]).attr("stroke-width", 1.4);
    g.append("text").attr("x", lg.tx).attr("y", lg.tys[k])
      .attr("text-anchor", "end")
      .style("font-family", "'Liberation Serif', 'Times New Roman', serif")
      .style("font-weight", "bold").style("font-size", "16px")
      .text(legendNames[k]);
  });

  // data lines
  const line = d3.line().x(d => x(d[0])).y(d => y(Math.max(d[1], 0.5)));
  const dg = g.append("g").attr("clip-path", "url(#clip" + i + ")");
  seriesOrder.forEach(s => {
    dg.append("path").datum(p[s.key])
      .attr("d", line)
      .attr("fill", "none")
      .attr("stroke", s.color)
      .attr("stroke-width", 1.4)
      .attr("stroke-linejoin", "round");
  });

  // plot frame
  g.append("rect").attr("x", pl.l).attr("y", pl.t)
    .attr("width", pl.r - pl.l).attr("height", pl.b - pl.t)
    .attr("fill", "none").attr("stroke", "#111").attr("stroke-width", 1.4);
  g.append("line").attr("x1", pl.l).attr("x2", pl.r).attr("y1", pl.b).attr("y2", pl.b)
    .attr("stroke", "#000").attr("stroke-width", 2);
  g.append("line").attr("x1", pl.l).attr("x2", pl.l).attr("y1", pl.t).attr("y2", pl.b)
    .attr("stroke", "#000").attr("stroke-width", 2);

  // y tick labels
  g.selectAll(".ytl").data(yTicks).enter().append("text")
    .attr("x", pl.l - 18).attr("y", d => y(d) + 5)
    .attr("text-anchor", "end")
    .style("font-family", "'Liberation Sans', Arial, sans-serif")
    .style("font-size", "14px").style("fill", "#595959")
    .text(d => d);

  // y title
  g.append("text")
    .attr("transform", `translate(${p.title[0]},${p.title[1]}) rotate(-90)`)
    .attr("text-anchor", "middle").attr("dominant-baseline", "central")
    .style("font-family", "'Liberation Serif', 'Times New Roman', serif")
    .style("font-size", "19px")
    .text("Discharg (m3/s)");

  // year labels
  p.years.forEach((yr, k) => {
    g.append("text").attr("x", p.yearX[k]).attr("y", p.yearY[k] + 6.5)
      .attr("text-anchor", "middle")
      .style("font-family", "'Liberation Serif', 'Times New Roman', serif")
      .style("font-size", "18px")
      .text(yr);
  });
}
</script>
</body>
</html>
